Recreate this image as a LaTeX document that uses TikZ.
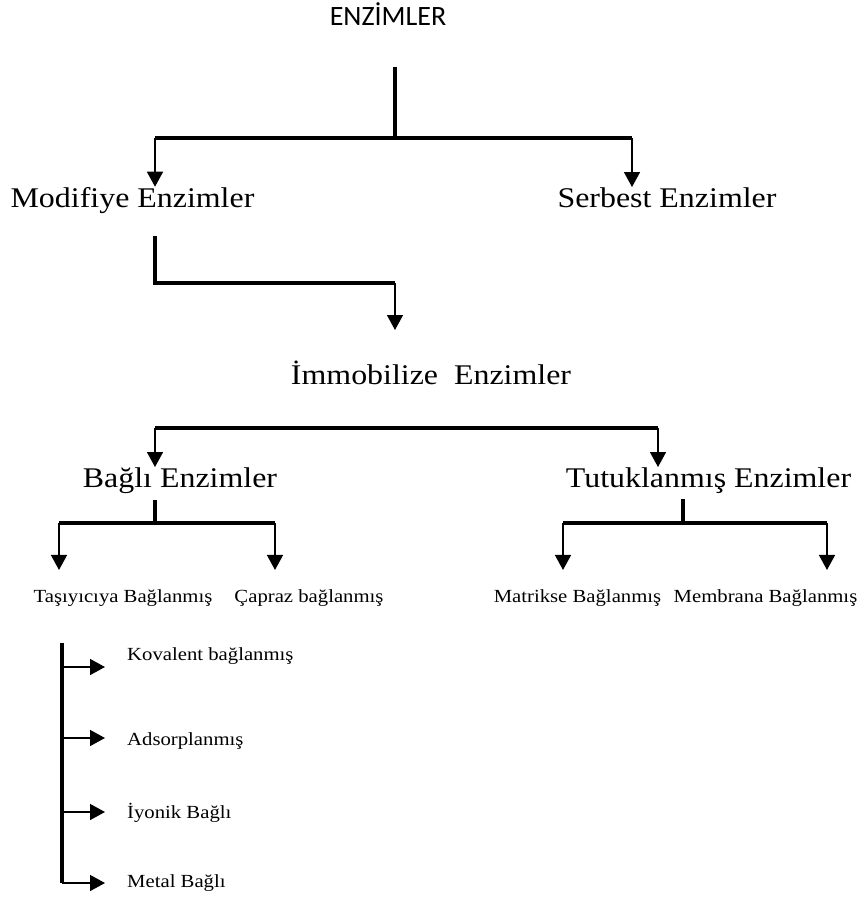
\documentclass[tikz,border=0pt]{standalone}
\usepackage{fontspec}
\setmainfont[FakeStretch=1.12]{Liberation Serif}
\newfontfamily\calibrifont{Carlito}
\usetikzlibrary{arrows.meta}
\tikzset{
    title-label/.style = {inner sep=0pt, anchor=base, font=\calibrifont\fontsize{28}{30}\selectfont},
    big-label/.style = {inner sep=0pt, anchor=base, font=\fontsize{28.5}{30}\selectfont},
    small-label/.style = {inner sep=0pt, anchor=base, font=\fontsize{18.5}{20}\selectfont},
    thick-bar/.style = {line width=4.5pt},
    thin-arrow/.style = {line width=1.5pt, -{Triangle[length=15pt,width=16pt]}},
}

\begin{document}
\begin{tikzpicture}[x=1pt, y=-1pt]
\useasboundingbox (0,0) rectangle (858,899);

\node[title-label] (enz) at (388,26) {ENZİMLER};
\node[big-label] (mod) at (132.5,207) {Modifiye Enzimler};
\node[big-label] (ser) at (667,207) {Serbest Enzimler};
\node[big-label] (imm) at (431,384) {İmmobilize~~Enzimler};
\node[big-label] (bag) at (180,487) {Bağlı Enzimler};
\node[big-label] (tut) at (708.5,487) {Tutuklanmış Enzimler};
\node[small-label] (tas) at (123,602) {Taşıyıcıya Bağlanmış};
\node[small-label] (cap) at (309,602) {Çapraz bağlanmış};
\node[small-label] (mat) at (577.5,602) {Matrikse Bağlanmış};
\node[small-label] (mem) at (765.5,602) {Membrana Bağlanmış};
\node[small-label, anchor=base west] (kov) at (127,660) {Kovalent bağlanmış};
\node[small-label, anchor=base west] (ads) at (127,745) {Adsorplanmış};
\node[small-label, anchor=base west] (iyo) at (127,818) {İyonik Bağlı};
\node[small-label, anchor=base west] (met) at (127,887) {Metal Bağlı};

% enzimler
\coordinate (top) at (395,67);
\coordinate (split) at (395,138);
\coordinate (l1) at (155,138);
\coordinate (r1) at (632,138);
\draw[thick-bar] (top) -- (split);
\draw[thick-bar] (l1) -- (r1);
\draw[thin-arrow] (l1) -- (l1 |- mod.north);
\draw[thin-arrow] (r1) -- (r1 |- ser.north);

% modifiye -> immobilize
\coordinate (m1) at (155,236);
\coordinate (m2) at (155,283);
\coordinate (m3) at (395,283);
\coordinate (immtip) at (395,330);
\draw[thick-bar] (m1) -- (m2) -- (m3);
\draw[thin-arrow] (m3) -- (immtip);

% immobilize
\coordinate (l2) at (155,428);
\coordinate (r2) at (658,428);
\draw[thick-bar] (l2) -- (r2);
\draw[thin-arrow] (l2) -- (l2 |- bag.north);
\draw[thin-arrow] (r2) -- (r2 |- tut.north);

% bagli
\coordinate (b0) at (155,500);
\coordinate (b1) at (155,523);
\coordinate (bl) at (59,523);
\coordinate (br) at (275,523);
\draw[thick-bar] (b0) -- (b1);
\draw[thick-bar] (bl) -- (br);
\draw[thin-arrow, shorten >=19pt] (bl) -- (bl |- tas.north);
\draw[thin-arrow, shorten >=19pt] (br) -- (br |- cap.north);

% tutuklanmis
\coordinate (t0) at (683,499);
\coordinate (t1) at (683,523);
\coordinate (tl) at (563,523);
\coordinate (tr) at (827,523);
\draw[thick-bar] (t0) -- (t1);
\draw[thick-bar] (tl) -- (tr);
\draw[thin-arrow, shorten >=19pt] (tl) -- (tl |- mat.north);
\draw[thin-arrow, shorten >=19pt] (tr) -- (tr |- mem.north);

% tasiyiciya
\coordinate (lt) at (62,643);
\coordinate (k1) at (62,667);
\coordinate (a1) at (62,738);
\coordinate (i1) at (62,812);
\coordinate (lb) at (62,883);
\draw[thick-bar] (lt) -- (lb);
\draw[thin-arrow, shorten >=22pt] (k1) -- (k1 -| kov.west);
\draw[thin-arrow, shorten >=22pt] (a1) -- (a1 -| ads.west);
\draw[thin-arrow, shorten >=22pt] (i1) -- (i1 -| iyo.west);
\draw[thin-arrow, shorten >=22pt] (lb) -- (lb -| met.west);
\end{tikzpicture}
\end{document}
